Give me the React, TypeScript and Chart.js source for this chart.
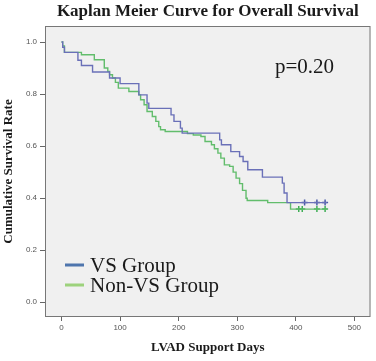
import React, { useEffect, useRef } from "react";
import { Chart, registerables } from "chart.js";

Chart.register(...registerables);

const TITLE = "Kaplan Meier Curve for Overall Survival";
const X_TITLE = "LVAD Support Days";
const Y_TITLE = "Cumulative Survival Rate";
const P_TEXT = "p=0.20";
const SERIES_NAMES = ["VS Group", "Non-VS Group"];

const X_TICKS = [0, 100, 200, 300, 400, 500];
const Y_TICKS = [0, 0.2, 0.4, 0.6, 0.8, 1.0];

const vsDays = [0, 2, 5, 28, 34, 53, 82, 100, 132, 146, 149, 187, 192, 203, 206, 270, 273, 289, 304, 310, 318, 343, 377, 380, 385, 453];
const vsSurv = [1.0, 0.98, 0.96, 0.93, 0.91, 0.885, 0.862, 0.84, 0.797, 0.765, 0.745, 0.72, 0.695, 0.669, 0.65, 0.624, 0.605, 0.579, 0.56, 0.541, 0.509, 0.481, 0.458, 0.42, 0.383, 0.383];
const vsCensorDays = [415, 436, 450];

const nvsDays = [0, 2, 5, 34, 56, 73, 79, 82, 87, 92, 97, 115, 132, 135, 141, 146, 155, 161, 166, 169, 177, 215, 225, 238, 245, 256, 261, 267, 272, 278, 287, 293, 298, 304, 309, 315, 317, 352, 391, 453];
const nvsSurv = [1.0, 0.985, 0.96, 0.951, 0.932, 0.9, 0.887, 0.874, 0.862, 0.845, 0.823, 0.81, 0.797, 0.778, 0.759, 0.733, 0.714, 0.695, 0.675, 0.663, 0.656, 0.648, 0.643, 0.637, 0.618, 0.605, 0.59, 0.573, 0.554, 0.528, 0.522, 0.5, 0.477, 0.456, 0.43, 0.4, 0.391, 0.383, 0.358, 0.358];
const nvsCensorDays = [405, 411, 436, 450];

const VS_LINE = "#6a70b8";
const NVS_LINE = "#62bd6c";
const VS_LEGEND = "#4e75ad";
const NVS_LEGEND = "#9dd27c";

function survAt(days: number[], surv: number[], t: number) {
  let s = surv[0];
  for (let i = 0; i < days.length; i++) if (days[i] <= t) s = surv[i];
  return s;
}

const SERIF = "'Liberation Serif', 'Times New Roman', serif";

const decorPlugin = {
  id: "decor",
  beforeDraw(chart: any) {
    const { ctx, chartArea } = chart;
    const { left, top, right, bottom } = chartArea;
    ctx.save();
    ctx.fillStyle = "#ffffff";
    ctx.fillRect(0, 0, chart.width, chart.height);
    ctx.fillStyle = "#f0f0f0";
    ctx.fillRect(left, top, right - left, bottom - top);
    ctx.restore();
  },
  afterDraw(chart: any) {
    const { ctx, chartArea } = chart;
    const { left, top, right, bottom } = chartArea;
    ctx.save();
    ctx.strokeStyle = "#777";
    ctx.lineWidth = 1;
    ctx.strokeRect(left + 0.5, top + 0.5, right - left - 1, bottom - top - 1);

    const cx = (left + right) / 2;
    ctx.fillStyle = "#1a1a1a";
    ctx.font = `bold 17px ${SERIF}`;
    ctx.textAlign = "center";
    ctx.textBaseline = "middle";
    ctx.fillText(TITLE, cx, 12);

    ctx.font = `bold 13px ${SERIF}`;
    ctx.fillText(X_TITLE, cx, 348);
    ctx.save();
    ctx.translate(9, (top + bottom) / 2);
    ctx.rotate(-Math.PI / 2);
    ctx.fillText(Y_TITLE, 0, 0);
    ctx.restore();

    ctx.textAlign = "left";
    ctx.textBaseline = "alphabetic";
    ctx.font = `21px ${SERIF}`;
    ctx.fillText(P_TEXT, 275, 73);

    const legendColors = [VS_LEGEND, NVS_LEGEND];
    const ys = [265, 285];
    SERIES_NAMES.forEach((name, i) => {
      ctx.strokeStyle = legendColors[i];
      ctx.lineWidth = 3;
      ctx.beginPath();
      ctx.moveTo(65, ys[i]);
      ctx.lineTo(84, ys[i]);
      ctx.stroke();
      ctx.fillStyle = "#1a1a1a";
      ctx.fillText(name, 90, ys[i] + 7);
    });
    ctx.restore();
  },
};

export default function App() {
  const ref = useRef<HTMLCanvasElement>(null);
  useEffect(() => {
    const canvas = ref.current!;
    const chart = new Chart(canvas, {
      type: "line",
      data: {
        datasets: [
          {
            label: SERIES_NAMES[0],
            data: vsDays.map((d, i) => ({ x: d, y: vsSurv[i] })),
            borderColor: VS_LINE,
            borderWidth: 1.4,
            stepped: true,
            pointRadius: 0,
            fill: false,
          },
          {
            label: SERIES_NAMES[1],
            data: nvsDays.map((d, i) => ({ x: d, y: nvsSurv[i] })),
            borderColor: NVS_LINE,
            borderWidth: 1.4,
            stepped: true,
            pointRadius: 0,
            fill: false,
          },
          {
            label: "VS censored",
            data: vsCensorDays.map((d) => ({ x: d, y: survAt(vsDays, vsSurv, d) })),
            showLine: false,
            pointStyle: "cross",
            pointRadius: 3,
            pointBorderWidth: 1.5,
            pointBorderColor: "#4a5aa8",
            borderColor: "#4a5aa8",
          },
          {
            label: "Non-VS censored",
            data: nvsCensorDays.map((d) => ({ x: d, y: survAt(nvsDays, nvsSurv, d) })),
            showLine: false,
            pointStyle: "cross",
            pointRadius: 3,
            pointBorderWidth: 1.5,
            pointBorderColor: "#3fae55",
            borderColor: "#3fae55",
          },
        ],
      },
      options: {
        responsive: false,
        animation: false,
        layout: { padding: { top: 26, right: 2, left: 0, bottom: 0 } },
        plugins: {
          legend: { display: false },
          title: { display: false },
          tooltip: { enabled: false },
        },
        scales: {
          x: {
            type: "linear",
            min: -28.2,
            max: 527.5,
            afterFit: (s: any) => {
              s.height = 44;
            },
            afterBuildTicks: (s: any) => {
              s.ticks = X_TICKS.map((v) => ({ value: v }));
            },
            border: { display: false },
            grid: { drawOnChartArea: false, drawTicks: true, tickLength: 4, color: "#666" },
            ticks: {
              padding: 2,
              color: "#555",
              font: { family: "'Liberation Sans', Arial, sans-serif", size: 8 },
              callback: (v: any) => String(v),
            },
          },
          y: {
            type: "linear",
            min: -0.0565,
            max: 1.0615,
            afterFit: (s: any) => {
              s.width = 45;
            },
            afterBuildTicks: (s: any) => {
              s.ticks = Y_TICKS.map((v) => ({ value: v }));
            },
            border: { display: false },
            grid: { drawOnChartArea: false, drawTicks: true, tickLength: 5, color: "#666" },
            ticks: {
              padding: 3,
              color: "#555",
              font: { family: "'Liberation Sans', Arial, sans-serif", size: 8 },
              callback: (v: any) => Number(v).toFixed(1),
            },
          },
        },
      },
      plugins: [decorPlugin],
    } as any);
    return () => chart.destroy();
  }, []);
  return (
    <div style={{ position: "fixed", left: 0, top: 0, width: 376, height: 361, background: "#fff" }}>
      <canvas ref={ref} width={376} height={361} style={{ display: "block" }} />
    </div>
  );
}
